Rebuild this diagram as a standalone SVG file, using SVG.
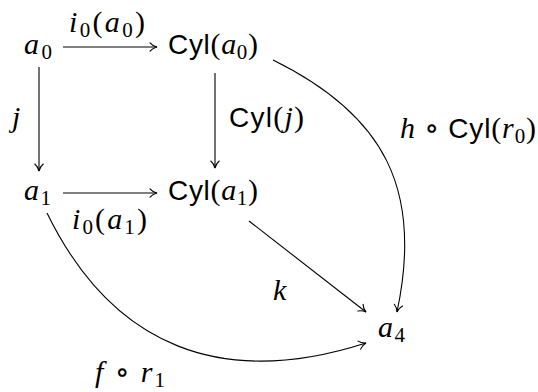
<svg xmlns="http://www.w3.org/2000/svg" width="538" height="392" viewBox="0 0 538 392">
<style>
text{font-family:"Liberation Serif","DejaVu Serif",serif;font-size:30px;fill:#000}
.i{font-style:italic}
.sf{font-family:"Liberation Sans",sans-serif;font-style:normal;font-size:28px}
.s{font-size:21px}
.e{stroke:#000;stroke-width:1.1;fill:none;marker-end:url(#ah)}
</style>
<defs>
<marker id="ah" markerUnits="userSpaceOnUse" markerWidth="14" markerHeight="14" viewBox="-10 -7 12 14" refX="0" refY="0" orient="auto">
<path d="M-7,-4.2 C-4.8,-1.6 -2,-0.5 0,0 C-2,0.5 -4.8,1.6 -7,4.2" fill="none" stroke="#000" stroke-width="1.1" stroke-linecap="round"/>
</marker>
</defs>
<rect width="538" height="392" fill="#fff"/>
<g id="edges">
<path class="e" d="M63,47 H157"/>
<path class="e" d="M63,193 H157"/>
<path class="e" d="M39,67 V171"/>
<path class="e" d="M215,73 V168"/>
<path class="e" d="M249,221 L366,312"/>
<path class="e" d="M273,60 C385,115 423,190 397,312"/>
<path class="e" d="M47,213 C113,348 223,389 366,343"/>
</g>
<g id="labels">
<text x="69" y="32" textLength="76" lengthAdjust="spacing"><tspan class="i">i</tspan><tspan class="s" dy="5">0</tspan><tspan dy="-5">(</tspan><tspan class="i">a</tspan><tspan class="s" dy="5">0</tspan><tspan dy="-5">)</tspan></text>
<text x="12" y="127" class="i">j</text>
<text x="229" y="127" textLength="75" lengthAdjust="spacing"><tspan class="sf">Cyl</tspan>(<tspan class="i">j</tspan>)</text>
<text x="72" y="229" textLength="75" lengthAdjust="spacing"><tspan class="i">i</tspan><tspan class="s" dy="5">0</tspan><tspan dy="-5">(</tspan><tspan class="i">a</tspan><tspan class="s" dy="5">1</tspan><tspan dy="-5">)</tspan></text>
<text x="400" y="138" textLength="136" lengthAdjust="spacing"><tspan class="i">h</tspan> ∘ <tspan class="sf">Cyl</tspan>(<tspan class="i">r</tspan><tspan class="s" dy="5">0</tspan><tspan dy="-5">)</tspan></text>
<text x="273" y="300" class="i">k</text>
<text x="95" y="382" textLength="70" lengthAdjust="spacing"><tspan class="i">f</tspan> ∘ <tspan class="i">r</tspan><tspan class="s" dy="5">1</tspan></text>
</g>
<g id="n-a0"><text x="24" y="54" textLength="28" lengthAdjust="spacing"><tspan class="i">a</tspan><tspan class="s" dy="5">0</tspan></text></g>
<g id="n-cyl-a0"><text x="168" y="54" textLength="90" lengthAdjust="spacing"><tspan class="sf">Cyl</tspan>(<tspan class="i">a</tspan><tspan class="s" dy="5">0</tspan><tspan dy="-5">)</tspan></text></g>
<g id="n-a1"><text x="24" y="200" textLength="27" lengthAdjust="spacing"><tspan class="i">a</tspan><tspan class="s" dy="5">1</tspan></text></g>
<g id="n-cyl-a1"><text x="168" y="200" textLength="90" lengthAdjust="spacing"><tspan class="sf">Cyl</tspan>(<tspan class="i">a</tspan><tspan class="s" dy="5">1</tspan><tspan dy="-5">)</tspan></text></g>
<g id="n-a4"><text x="378" y="337" textLength="27" lengthAdjust="spacing"><tspan class="i">a</tspan><tspan class="s" dy="5">4</tspan></text></g>
</svg>
